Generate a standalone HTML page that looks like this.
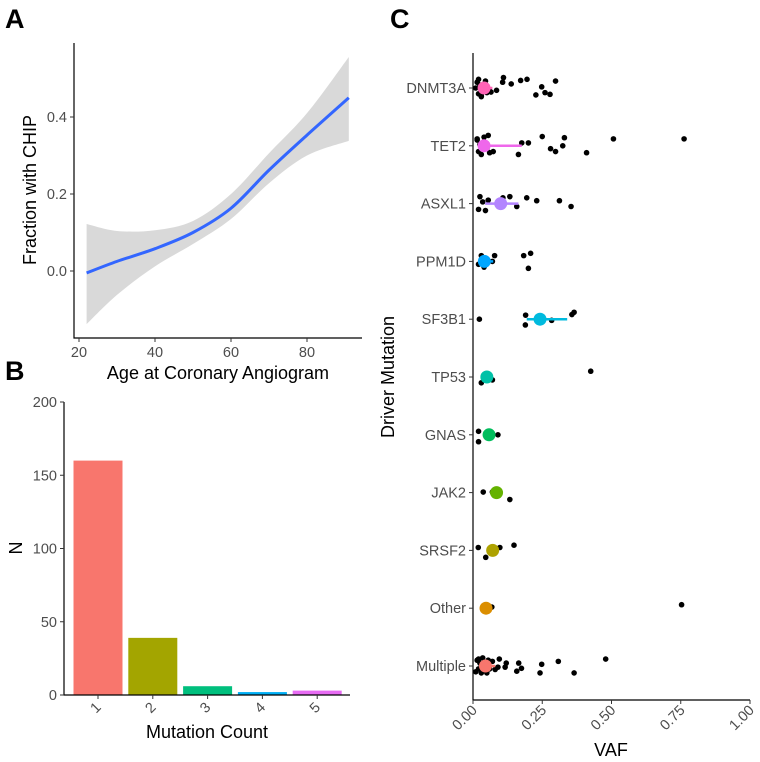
<!DOCTYPE html>
<html><head><meta charset="utf-8"><style>
html,body{margin:0;padding:0;background:#fff}
svg{display:block;font-family:"Liberation Sans",Arial,sans-serif}
.tick{fill:#4d4d4d;font-size:14.5px}
.ttl{fill:#000;font-size:18px}
.lab{fill:#000;font-size:27px;font-weight:bold}
</style></head><body>
<svg id="fig" width="760" height="762" viewBox="0 0 760 762">
<text class="lab" x="5" y="28">A</text>
<text class="lab" x="5" y="380">B</text>
<text class="lab" x="390" y="28">C</text>
<g id="pa"></g>
<g id="pb"></g>
<g id="pc"></g>
</svg>
<script>
// Panel A data
const ageVals=[22,30,40,50,60,70,80,91];
const fitVals=[-0.005,0.025,0.058,0.10,0.163,0.262,0.353,0.45];
const upperVals=[0.122,0.104,0.106,0.13,0.2,0.306,0.41,0.556];
const lowerVals=[-0.138,-0.062,0.012,0.07,0.135,0.228,0.30,0.338];
const aXTicks=[20,40,60,80];
const aYTicks=[0.0,0.2,0.4];
const aYTickLabels=["0.0","0.2","0.4"];
// Panel B data
const countCats=["1","2","3","4","5"];
const countVals=[160,39,6,2,3];
const countColors=["#F8766D","#A3A500","#00BF7D","#00B0F6","#E76BF3"];
const bYTicks=[0,50,100,150,200];
// Panel C data
const genes=["DNMT3A","TET2","ASXL1","PPM1D","SF3B1","TP53","GNAS","JAK2","SRSF2","Other","Multiple"];
const geneColors=["#FF63B6","#EF67EB","#B385FF","#00A6FF","#00BADE","#00C1A7","#00BD5C","#64B200","#AEA200","#DB8E00","#F8766D"];
const geneMeans=[0.04,0.04,0.10,0.041,0.242,0.05,0.058,0.085,0.071,0.047,0.045];
const geneLo=[0.02,0.02,0.044,0.025,0.194,0.035,0.04,0.075,0.055,0.035,0.03];
const geneHi=[0.07,0.176,0.164,0.073,0.34,0.065,0.07,0.095,0.09,0.06,0.08];
const ptGene=[0,0,0,0,0,0,0,0,0,0,0,0,0,0,0,0,0,0,0,0,0,0,0,
1,1,1,1,1,1,1,1,1,1,1,1,1,1,1,1,1,1,1,1,1,1,
2,2,2,2,2,2,2,2,2,2,2,2,2,
3,3,3,3,3,3,3,3,
4,4,4,4,4,4,4,
5,5,5,5,
6,6,6,
7,7,7,
8,8,8,8,
9,9,9,9,
10,10,10,10,10,10,10,10,10,10,10,10,10,10,10,10,10,10,10,10,10,10,10,10,10];
const ptVaf=[0.015,0.02,0.025,0.03,0.035,0.045,0.05,0.06,0.02,0.03,0.065,0.085,0.107,0.11,0.138,0.172,0.195,0.227,0.248,0.26,0.278,0.298,0.01,
0.015,0.02,0.025,0.03,0.04,0.05,0.06,0.073,0.015,0.035,0.164,0.176,0.2,0.25,0.28,0.298,0.324,0.33,0.41,0.507,0.762,0.055,
0.02,0.025,0.035,0.045,0.055,0.1,0.108,0.133,0.158,0.194,0.23,0.312,0.354,
0.02,0.03,0.04,0.07,0.078,0.2,0.208,0.183,
0.023,0.189,0.19,0.242,0.284,0.357,0.365,
0.03,0.045,0.07,0.425,
0.02,0.02,0.09,
0.037,0.07,0.133,
0.019,0.046,0.097,0.148,
0.04,0.048,0.068,0.753,
0.01,0.015,0.02,0.025,0.03,0.035,0.04,0.05,0.055,0.06,0.07,0.08,0.09,0.095,0.116,0.12,0.158,0.165,0.175,0.242,0.248,0.308,0.365,0.479,0.02];
const ptJit=[-0.1,0.1,-0.05,0.12,0.02,-0.12,0.08,0.05,-0.15,0.15,0.07,0.04,-0.1,-0.18,-0.07,-0.13,-0.15,0.12,-0.02,0.08,0.11,-0.12,0.0,
-0.12,0.1,-0.02,0.15,-0.15,0.05,0.12,0.1,-0.1,0.0,0.15,-0.05,-0.05,-0.16,0.05,0.1,0.0,-0.14,0.12,-0.12,-0.12,-0.18,
0.1,-0.12,-0.03,0.12,-0.06,0.03,-0.1,-0.12,0.05,-0.1,-0.05,-0.05,0.05,
0.05,-0.1,0.1,0.0,-0.1,0.12,-0.14,-0.1,
0.0,0.1,-0.07,0.0,0.02,-0.08,-0.12,
0.1,0.05,0.05,-0.1,
0.12,-0.06,0.0,
-0.01,-0.01,0.12,
-0.05,0.12,-0.05,-0.09,
0.03,0.05,-0.02,-0.06,
0.1,-0.1,0.05,-0.05,0.12,-0.14,0.08,0.12,-0.1,0.05,-0.08,0.06,0.02,-0.12,0.02,-0.05,0.09,-0.05,0.04,0.12,-0.03,-0.08,0.12,-0.12,-0.12];
const cXTicks=[0,0.25,0.5,0.75,1.0];
const cXTickLabels=["0.00","0.25","0.50","0.75","1.00"];

const NS="http://www.w3.org/2000/svg";
function mk(parent,tag,attrs,text){const e=document.createElementNS(NS,tag);for(const k in attrs)e.setAttribute(k,attrs[k]);if(text!==undefined)e.textContent=text;parent.appendChild(e);return e;}
function smoothPath(pts){let d="M"+pts[0][0]+","+pts[0][1];for(let i=0;i<pts.length-1;i++){const p0=pts[Math.max(0,i-1)],p1=pts[i],p2=pts[i+1],p3=pts[Math.min(pts.length-1,i+2)];const c1=[p1[0]+(p2[0]-p0[0])/6,p1[1]+(p2[1]-p0[1])/6],c2=[p2[0]-(p3[0]-p1[0])/6,p2[1]-(p3[1]-p1[1])/6];d+=" C"+c1[0]+","+c1[1]+" "+c2[0]+","+c2[1]+" "+p2[0]+","+p2[1];}return d;}

// ---------- Panel A ----------
(function(){
const g=document.getElementById('pa');
const xA=v=>79+(v-20)*3.8, yA=v=>271-v*385;
const up=ageVals.map((a,i)=>[xA(a),yA(upperVals[i])]);
const lo=ageVals.map((a,i)=>[xA(a),yA(lowerVals[i])]).reverse();
let d=smoothPath(up)+" L"+lo[0][0]+","+lo[0][1]+smoothPath(lo).slice(smoothPath(lo).indexOf(" C"))+" Z";
const band=mk(g,'path',{d:d,fill:'#d9d9d9'});


const line=mk(g,'path',{d:smoothPath(ageVals.map((a,i)=>[xA(a),yA(fitVals[i])])),fill:'none',stroke:'#3366FF','stroke-width':3});


const ax=mk(g,'path',{d:'M74,43 V338 H362',fill:'none',stroke:'#000','stroke-width':1.2});


aXTicks.forEach(t=>{mk(g,'line',{x1:xA(t),x2:xA(t),y1:338,y2:342,stroke:'#333'});
const tl=mk(g,'text',{class:'tick',x:xA(t),y:357,'text-anchor':'middle'},String(t));

});
aYTicks.forEach((t,i)=>{mk(g,'line',{x1:70,x2:74,y1:yA(t),y2:yA(t),stroke:'#333'});
const tl=mk(g,'text',{class:'tick',x:67,y:yA(t)+5,'text-anchor':'end'},aYTickLabels[i]);

});
const xt=mk(g,'text',{class:'ttl',x:218,y:379,'text-anchor':'middle'},'Age at Coronary Angiogram');


const yt=mk(g,'text',{class:'ttl',x:0,y:0,'text-anchor':'middle',transform:'translate(36,190) rotate(-90)'},'Fraction with CHIP');


})();

// ---------- Panel B ----------
(function(){
const g=document.getElementById('pb');
const yB=v=>695-v*1.465, xB=i=>98+i*54.8;
countVals.forEach((v,i)=>{const r=mk(g,'rect',{x:xB(i)-24.5,y:yB(v),width:49,height:695-yB(v),fill:countColors[i]});

});
const ax=mk(g,'path',{d:'M64,402 V695 H350',fill:'none',stroke:'#000','stroke-width':1.2});


bYTicks.forEach(t=>{mk(g,'line',{x1:60,x2:64,y1:yB(t),y2:yB(t),stroke:'#333'});
const tl=mk(g,'text',{class:'tick',x:57,y:yB(t)+5,'text-anchor':'end'},String(t));

});
countCats.forEach((c,i)=>{mk(g,'line',{x1:xB(i),x2:xB(i),y1:695,y2:699,stroke:'#333'});
const tl=mk(g,'text',{class:'tick',x:0,y:0,'text-anchor':'middle',transform:'translate('+(xB(i)+1)+',711) rotate(-45)'},c);

});
const xt=mk(g,'text',{class:'ttl',x:207,y:738,'text-anchor':'middle'},'Mutation Count');


const yt=mk(g,'text',{class:'ttl',x:0,y:0,'text-anchor':'middle',transform:'translate(22,548) rotate(-90)'},'N');


})();

// ---------- Panel C ----------
(function(){
const g=document.getElementById('pc');
const xC=v=>473+v*277, yC=i=>88+i*57.8;
const ax=mk(g,'path',{d:'M473,53 V700 H750',fill:'none',stroke:'#000','stroke-width':1.2});


genes.forEach((gn,i)=>{mk(g,'line',{x1:469,x2:473,y1:yC(i),y2:yC(i),stroke:'#333'});
const tl=mk(g,'text',{class:'tick',x:466,y:yC(i)+5,'text-anchor':'end'},gn);

});
cXTicks.forEach((t,i)=>{mk(g,'line',{x1:xC(t),x2:xC(t),y1:700,y2:704,stroke:'#333'});
const tl=mk(g,'text',{class:'tick',x:0,y:0,'text-anchor':'end',transform:'translate('+(xC(t)+5)+',711) rotate(-45)'},cXTickLabels[i]);

});
ptVaf.forEach((v,k)=>{const c=mk(g,'circle',{cx:xC(v),cy:yC(ptGene[k])+ptJit[k]*57.8,r:2.8,fill:'#000'});

});
genes.forEach((gn,i)=>{const l=mk(g,'line',{x1:xC(geneLo[i]),x2:xC(geneHi[i]),y1:yC(i),y2:yC(i),stroke:geneColors[i],'stroke-width':2.5});


const c=mk(g,'circle',{cx:xC(geneMeans[i]),cy:yC(i),r:6.5,fill:geneColors[i]});

});
const xt=mk(g,'text',{class:'ttl',x:611,y:756,'text-anchor':'middle'},'VAF');


const yt=mk(g,'text',{class:'ttl',x:0,y:0,'text-anchor':'middle',transform:'translate(394,377) rotate(-90)'},'Driver Mutation');


})();
</script>
</body></html>
